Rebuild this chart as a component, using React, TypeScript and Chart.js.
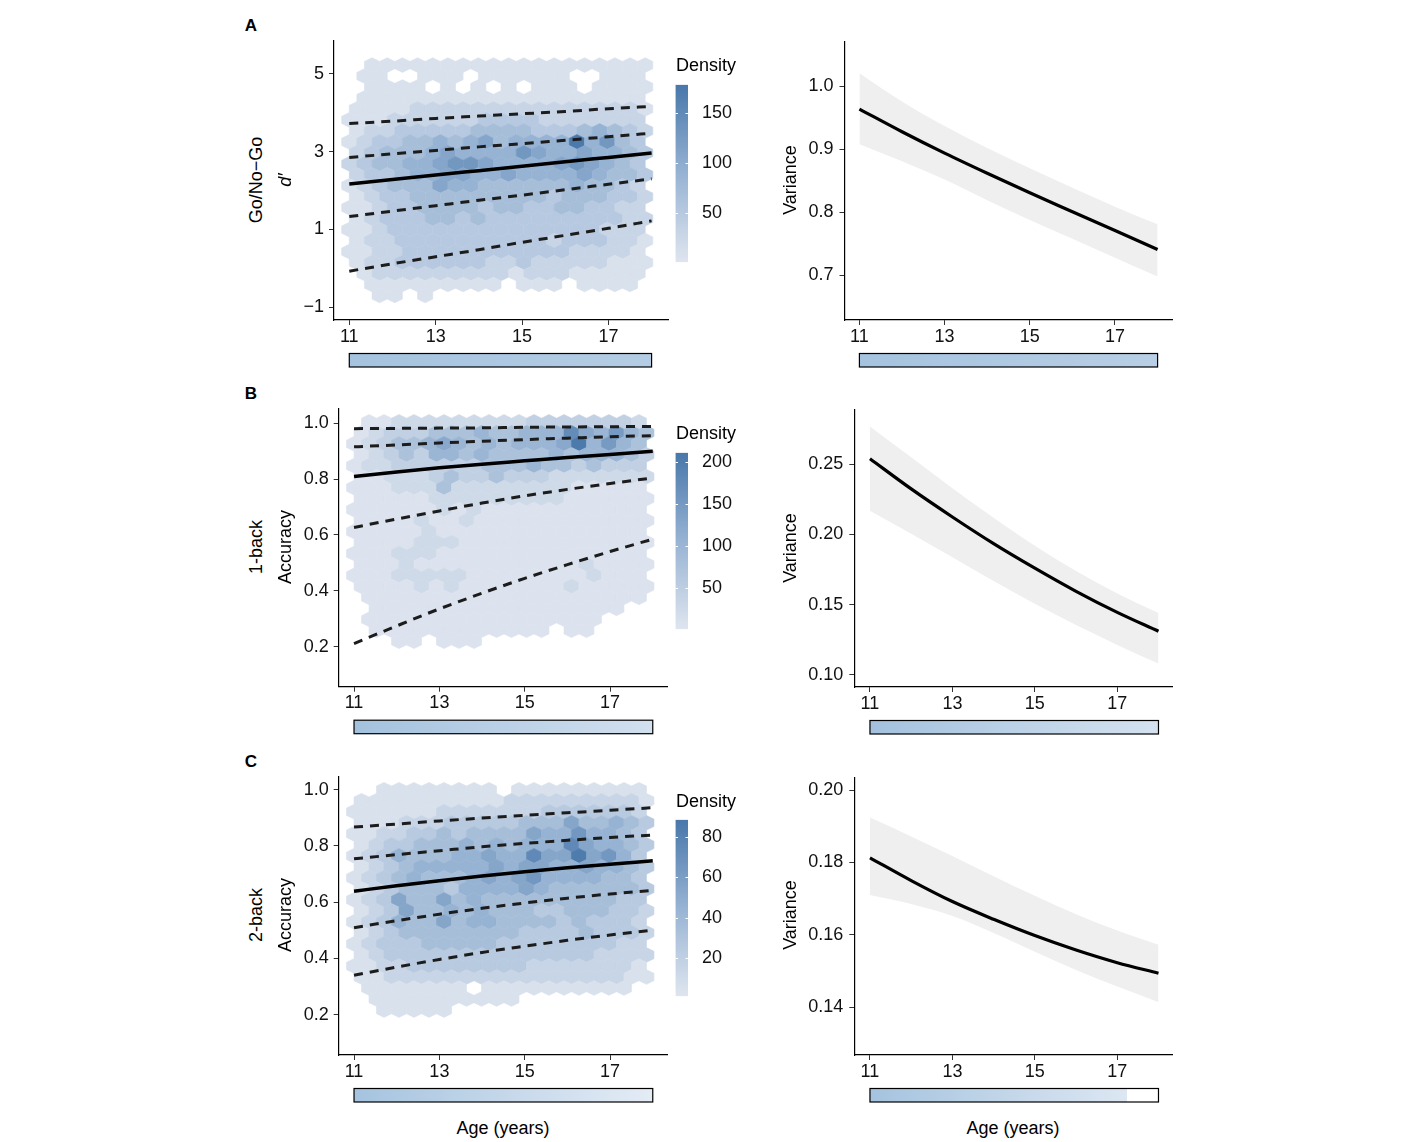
import React, { useEffect, useRef } from "react";
import { Chart, registerables } from "chart.js";

Chart.register(...registerables);

const FONT = "'Liberation Sans', Arial, Helvetica, sans-serif";
Chart.defaults.font.family = FONT;

// ---------------- data ----------------
const AGES = [11, 12, 13, 14, 15, 16, 17, 18];
const AGE_TICKS = [11, 13, 15, 17];

// Panel A (Go/No-Go d') quantile curves
const GNG_Q_TOP = [3.72, 3.78, 3.85, 3.91, 3.97, 4.03, 4.1, 4.16];
const GNG_Q_UP = [2.85, 2.94, 3.03, 3.12, 3.2, 3.29, 3.38, 3.47];
const GNG_MED = [2.17, 2.28, 2.4, 2.51, 2.62, 2.74, 2.85, 2.96];
const GNG_Q_LO = [1.33, 1.47, 1.61, 1.75, 1.88, 2.02, 2.16, 2.3];
const GNG_Q_BOT = [-0.07, 0.12, 0.3, 0.48, 0.67, 0.85, 1.03, 1.22];

// Panel B (1-back accuracy) quantile curves
const OB_Q_TOP = [0.98, 0.981, 0.982, 0.983, 0.985, 0.986, 0.987, 0.988];
const OB_Q_UP = [0.915, 0.922, 0.929, 0.935, 0.941, 0.946, 0.951, 0.955];
const OB_MED = [0.809, 0.825, 0.84, 0.853, 0.865, 0.877, 0.888, 0.899];
const OB_Q_LO = [0.627, 0.657, 0.686, 0.714, 0.74, 0.763, 0.784, 0.804];
const OB_Q_BOT = [0.212, 0.275, 0.336, 0.392, 0.445, 0.494, 0.541, 0.585];

// Panel C (2-back accuracy) quantile curves
const TB_Q_TOP = [0.867, 0.878, 0.889, 0.899, 0.909, 0.918, 0.927, 0.936];
const TB_Q_UP = [0.754, 0.769, 0.783, 0.797, 0.809, 0.82, 0.83, 0.839];
const TB_MED = [0.639, 0.658, 0.676, 0.693, 0.708, 0.722, 0.735, 0.747];
const TB_Q_LO = [0.509, 0.534, 0.557, 0.578, 0.597, 0.614, 0.629, 0.642];
const TB_Q_BOT = [0.34, 0.369, 0.396, 0.421, 0.443, 0.464, 0.483, 0.5];

// Variance curves with confidence ribbons
const VAR_A = [0.964, 0.928, 0.894, 0.862, 0.831, 0.801, 0.771, 0.741];
const VAR_A_UP = [1.021, 0.976, 0.937, 0.902, 0.87, 0.839, 0.809, 0.781];
const VAR_A_LO = [0.908, 0.881, 0.852, 0.819, 0.788, 0.758, 0.728, 0.698];
const VAR_B = [0.254, 0.2325, 0.2125, 0.1935, 0.176, 0.1595, 0.1445, 0.131];
const VAR_B_UP = [0.277, 0.255, 0.233, 0.212, 0.192, 0.174, 0.158, 0.144];
const VAR_B_LO = [0.217, 0.2005, 0.1838, 0.1668, 0.1506, 0.1355, 0.1213, 0.108];
const VAR_C = [0.1813, 0.175, 0.1692, 0.1643, 0.1598, 0.1558, 0.1523, 0.1494];
const VAR_C_UP = [0.1924, 0.1872, 0.1818, 0.1762, 0.1708, 0.1657, 0.1612, 0.1573];
const VAR_C_LO = [0.171, 0.1685, 0.1652, 0.1605, 0.1553, 0.1503, 0.1457, 0.1414];

// Y tick values
const Y_TICKS_GNG = [-1, 1, 3, 5];
const Y_TICKS_ACC = [0.2, 0.4, 0.6, 0.8, 1.0];
const Y_TICKS_VAR_A = [0.7, 0.8, 0.9, 1.0];
const Y_TICKS_VAR_B = [0.1, 0.15, 0.2, 0.25];
const Y_TICKS_VAR_C = [0.14, 0.16, 0.18, 0.2];

// Hexbin density grids: one string per hex row (top row first), one digit per column
// (0 = empty bin, 1..9 = density level, see *_LEVELS for the density each level stands for)
const HEX_X0 = 11.0;
const HEX_DX = 0.3514;

const HEX_A_Y0 = -0.694;
const HEX_A_DY = 0.2816;
const HEX_A_LEVELS = [0, 8, 30, 50, 70, 90, 110, 130, 150, 175];
const HEX_A_ROWS = [
  "01111111111111111111",
  "01100111011111100111",
  "01111010101011101111",
  "01111111111111111111",
  "11112222222222222221",
  "11122222233332222222",
  "12233333444433345432",
  "12334454564555595743",
  "23444565555765565543",
  "23445567765555676543",
  "23345566556555565443",
  "12344465544444454432",
  "12334444444443444332",
  "11233444434433443322",
  "12333443433333333322",
  "11233333333333333222",
  "12233333333332333221",
  "11223333333333322221",
  "12233333322322222111",
  "01222222222122211111",
  "01111111110111011110",
  "00110100000000000000",
];

const HEX_B_Y0 = 0.2203;
const HEX_B_DY = 0.0392;
const HEX_B_LEVELS = [0, 6, 25, 45, 75, 100, 125, 150, 175, 205];
const HEX_B_ROWS = [
  "01122222222233333332",
  "12333444544555865754",
  "12344565454555695754",
  "12343554544445455543",
  "12233333344454434333",
  "11222343343332222222",
  "11122242222222211111",
  "11111222222222111111",
  "11111121211111111111",
  "11112112111111111111",
  "11111211111111111111",
  "11112221111111111111",
  "11122211111111111111",
  "11121111111111121111",
  "11122222111111112111",
  "11112121111111211111",
  "01111111111111111111",
  "01111111111111111100",
  "01111111111111111000",
  "01111111111110110000",
  "00011011100000000000",
];

const HEX_C_Y0 = 0.216;
const HEX_C_DY = 0.0392;
const HEX_C_LEVELS = [0, 5, 15, 25, 35, 45, 55, 65, 75, 85];
const HEX_C_ROWS = [
  "00111111110111111111",
  "11111111112222222221",
  "11111122222223333332",
  "11122233333444644543",
  "11223343444465575543",
  "12334445454555865543",
  "12354445565586696753",
  "12345555565665565543",
  "12345444565675555443",
  "12344435555654444443",
  "12364464544444444433",
  "12364454544433444332",
  "12354464554444343332",
  "12344444444333343332",
  "12333444443333333322",
  "12333333333333332222",
  "11223333333322222221",
  "11222222222222222211",
  "01111111011111111110",
  "01111111111000000000",
  "00111110000000000000",
];

// Density colour-bar ranges and ticks
const DENS_A_RANGE = [1, 178.6];
const DENS_A_TICKS = [50, 100, 150];
const DENS_B_RANGE = [1, 211];
const DENS_B_TICKS = [50, 100, 150, 200];
const DENS_C_RANGE = [1.3, 88.4];
const DENS_C_TICKS = [20, 40, 60, 80];

// Age colour strips under each panel (age, colour)
const STRIP_A_LEFT = [[11, "#a5c3df"], [18, "#b4cde4"]];
const STRIP_B_LEFT = [[11, "#a3c1de"], [18, "#d2e0ef"]];
const STRIP_C_LEFT = [[11, "#a5c3df"], [18, "#e4ecf5"]];
const STRIP_A_RIGHT = [[11, "#a5c3df"], [18, "#b8cfe5"]];
const STRIP_B_RIGHT = [[11, "#a3c1de"], [18, "#d4e2f0"]];
const STRIP_C_RIGHT = [[11, "#a5c3df"], [17.24, "#dce7f2"], [17.24, "#ffffff"], [18, "#ffffff"]];

// ---------------- helpers ----------------
const GRAD_STOPS: [number, number[]][] = [
  [0, [223, 229, 239]],
  [0.5, [151, 179, 211]],
  [1, [72, 119, 170]],
];

function densityColor(d: number, lo: number, hi: number) {
  let t = (d - lo) / (hi - lo);
  t = Math.max(0, Math.min(1, t));
  for (let i = 0; i < GRAD_STOPS.length - 1; i++) {
    const [t0, c0] = GRAD_STOPS[i];
    const [t1, c1] = GRAD_STOPS[i + 1];
    if (t <= t1) {
      const f = (t - t0) / (t1 - t0);
      const c = c0.map((v, j) => Math.round(v + (c1[j] - v) * f));
      return `rgb(${c[0]},${c[1]},${c[2]})`;
    }
  }
  const c = GRAD_STOPS[GRAD_STOPS.length - 1][1];
  return `rgb(${c[0]},${c[1]},${c[2]})`;
}

function hexPlugin(spec: any) {
  return {
    id: "hexbins",
    beforeDatasetsDraw(chart: any) {
      const { ctx, chartArea, scales } = chart;
      const xs = scales.x;
      const ys = scales.y;
      ctx.save();
      ctx.beginPath();
      ctx.rect(chartArea.left, chartArea.top, chartArea.width, chartArea.height);
      ctx.clip();
      const n = spec.rows.length;
      const hx = spec.dx / 2;
      const hy = (spec.dy * 2) / 3;
      spec.rows.forEach((row: string, r: number) => {
        const i = n - 1 - r;
        const cy = spec.y0 + i * spec.dy;
        const off = i % 2 === 0 ? 0 : spec.dx / 2;
        for (let k = 0; k < row.length; k++) {
          const lv = parseInt(row[k], 10);
          if (!lv) continue;
          const cx = spec.x0 + off + k * spec.dx;
          const col = densityColor(spec.levels[lv], spec.lo, spec.hi);
          const pts = [
            [cx, cy + hy],
            [cx + hx, cy + hy / 2],
            [cx + hx, cy - hy / 2],
            [cx, cy - hy],
            [cx - hx, cy - hy / 2],
            [cx - hx, cy + hy / 2],
          ];
          ctx.beginPath();
          pts.forEach(([px, py], j) => {
            const X = xs.getPixelForValue(px);
            const Y = ys.getPixelForValue(py);
            if (j) ctx.lineTo(X, Y);
            else ctx.moveTo(X, Y);
          });
          ctx.closePath();
          ctx.fillStyle = col;
          ctx.fill();
          ctx.strokeStyle = col;
          ctx.lineWidth = 0.6;
          ctx.stroke();
        }
      });
      ctx.restore();
    },
  };
}

function stripPlugin(stops: any[]) {
  return {
    id: "agestrip",
    afterDraw(chart: any) {
      const { ctx, chartArea, scales } = chart;
      const xs = scales.x;
      const a0 = stops[0][0];
      const a1 = stops[stops.length - 1][0];
      const x0 = xs.getPixelForValue(a0);
      const x1 = xs.getPixelForValue(a1);
      const top = chartArea.bottom + 33.5;
      const h = 13.5;
      const g = ctx.createLinearGradient(x0, 0, x1, 0);
      stops.forEach(([a, c]: any) => g.addColorStop((a - a0) / (a1 - a0), c));
      ctx.save();
      ctx.fillStyle = g;
      ctx.fillRect(x0, top, x1 - x0, h);
      ctx.strokeStyle = "#000";
      ctx.lineWidth = 1.2;
      ctx.strokeRect(x0, top, x1 - x0, h);
      ctx.restore();
    },
  };
}

const pts = (vals: number[]) => AGES.map((a, i) => ({ x: a, y: vals[i] }));

const qLine = (vals: number[], dashed: boolean) => ({
  data: pts(vals),
  borderColor: dashed ? "#1c1c1c" : "#000",
  borderWidth: dashed ? 3 : 3.5,
  borderDash: dashed ? [9, 7] : [],
  pointRadius: 0,
  cubicInterpolationMode: "monotone",
  fill: false,
});

// centre line first so that it is painted last (on top of the ribbon fill)
const ribbon = (mid: number[], up: number[], lo: number[]) => [
  {
    data: pts(mid),
    borderColor: "#000",
    borderWidth: 3.2,
    fill: false,
    pointRadius: 0,
    cubicInterpolationMode: "monotone",
  },
  {
    data: pts(up),
    borderWidth: 0,
    borderColor: "rgba(0,0,0,0)",
    backgroundColor: "#efefef",
    fill: "+1",
    pointRadius: 0,
    cubicInterpolationMode: "monotone",
  },
  {
    data: pts(lo),
    borderWidth: 0,
    borderColor: "rgba(0,0,0,0)",
    fill: false,
    pointRadius: 0,
    cubicInterpolationMode: "monotone",
  },
];

function fmtTick(v: number, dec: number) {
  const s = Math.abs(v).toFixed(dec);
  return v < 0 ? "\u2212" + s : s;
}

type Plot = { l: number; t: number; r: number; b: number };

function MainPanel(props: {
  plot: Plot;
  xRange: number[];
  yRange: number[];
  yTicks: number[];
  yDec: number;
  datasets: any[];
  hex?: any;
  strip: any[];
  labelPad: number;
}) {
  const ref = useRef<HTMLCanvasElement>(null);
  const { plot } = props;
  const cl = Math.floor(plot.l) - 64;
  const ct = Math.floor(plot.t) - 14;
  const cr = Math.ceil(plot.r) + 8;
  const cb = Math.ceil(plot.b) + 56;
  const W = cr - cl;
  const H = cb - ct;
  useEffect(() => {
    const yw = plot.l - cl;
    const pt = plot.t - ct;
    const pr = cr - plot.r;
    const xh = cb - plot.b;
    const plugins: any[] = [stripPlugin(props.strip)];
    if (props.hex) plugins.push(hexPlugin(props.hex));
    const chart = new Chart(ref.current as HTMLCanvasElement, {
      type: "line",
      data: { datasets: props.datasets as any },
      plugins,
      options: {
        responsive: false,
        animation: false,
        events: [],
        layout: { padding: { top: pt, right: pr, left: 0, bottom: 0 } },
        plugins: { legend: { display: false }, tooltip: { enabled: false } },
        scales: {
          x: {
            type: "linear",
            min: props.xRange[0],
            max: props.xRange[1],
            afterFit: (s: any) => {
              s.height = xh;
            },
            afterBuildTicks: (s: any) => {
              s.ticks = AGE_TICKS.map((v) => ({ value: v }));
            },
            ticks: {
              font: { size: 18, family: FONT },
              color: "#111",
              padding: 1,
              maxRotation: 0,
              callback: (v: any) => String(v),
            },
            grid: { drawOnChartArea: false, drawTicks: true, tickLength: 5, color: "#333", lineWidth: 1 },
            border: { display: true, color: "#000", width: 1.2 },
          },
          y: {
            type: "linear",
            min: props.yRange[0],
            max: props.yRange[1],
            afterFit: (s: any) => {
              s.width = yw;
            },
            afterBuildTicks: (s: any) => {
              s.ticks = props.yTicks.map((v) => ({ value: v }));
            },
            ticks: {
              font: { size: 18, family: FONT },
              color: "#111",
              padding: props.labelPad,
              callback: (v: any) => fmtTick(Number(v), props.yDec),
            },
            grid: { drawOnChartArea: false, drawTicks: true, tickLength: 5, color: "#333", lineWidth: 1 },
            border: { display: true, color: "#000", width: 1.2 },
          },
        },
      } as any,
    });
    return () => chart.destroy();
  }, []);
  return (
    <canvas
      ref={ref}
      width={W}
      height={H}
      style={{ position: "absolute", left: cl, top: ct, width: W, height: H }}
    />
  );
}

function ColorBar(props: { top: number; bottom: number; range: number[]; ticks: number[] }) {
  const ref = useRef<HTMLCanvasElement>(null);
  const barL = 675.5;
  const barW = 12.5;
  const cl = 675;
  const ct = Math.floor(props.top) - 12;
  const cb = Math.ceil(props.bottom) + 12;
  const W = 70;
  const H = cb - ct;
  useEffect(() => {
    const padL = barL - cl;
    const pt = props.top - ct;
    const pb = cb - props.bottom;
    const yw = W - padL - barW;
    const tickPlugin = {
      id: "cbticks",
      afterDatasetsDraw(chart: any) {
        const { ctx, chartArea, scales } = chart;
        ctx.save();
        ctx.strokeStyle = "#ffffff";
        ctx.lineWidth = 1;
        scales.y.ticks.forEach((t: any) => {
          const y = Math.round(scales.y.getPixelForValue(t.value)) + 0.5;
          ctx.beginPath();
          ctx.moveTo(chartArea.left, y);
          ctx.lineTo(chartArea.left + 2.5, y);
          ctx.moveTo(chartArea.right - 2.5, y);
          ctx.lineTo(chartArea.right, y);
          ctx.stroke();
        });
        ctx.restore();
      },
    };
    const chart = new Chart(ref.current as HTMLCanvasElement, {
      type: "bar",
      data: {
        labels: [""],
        datasets: [
          {
            data: [[props.range[0], props.range[1]]],
            borderWidth: 0,
            barPercentage: 1,
            categoryPercentage: 1,
            backgroundColor: (c: any) => {
              const ch = c.chart;
              const area = ch.chartArea;
              if (!area) return "#dfe5ef";
              const g = ch.ctx.createLinearGradient(0, area.bottom, 0, area.top);
              GRAD_STOPS.forEach(([t, col]) => g.addColorStop(t, `rgb(${col[0]},${col[1]},${col[2]})`));
              return g;
            },
          } as any,
        ],
      },
      plugins: [tickPlugin],
      options: {
        responsive: false,
        animation: false,
        events: [],
        layout: { padding: { top: pt, bottom: pb, left: padL, right: 0 } },
        plugins: { legend: { display: false }, tooltip: { enabled: false } },
        scales: {
          x: { display: false },
          y: {
            position: "right",
            min: props.range[0],
            max: props.range[1],
            afterFit: (s: any) => {
              s.width = yw;
            },
            afterBuildTicks: (s: any) => {
              s.ticks = props.ticks.map((v) => ({ value: v }));
            },
            ticks: { font: { size: 18, family: FONT }, color: "#111", padding: 6 },
            grid: { display: false },
            border: { display: false },
          },
        },
      } as any,
    });
    return () => chart.destroy();
  }, []);
  return (
    <canvas
      ref={ref}
      width={W}
      height={H}
      style={{ position: "absolute", left: cl, top: ct, width: W, height: H }}
    />
  );
}

function Txt(props: {
  x: number;
  y: number;
  children: any;
  size?: number;
  rotate?: boolean;
  bold?: boolean;
  italic?: boolean;
  align?: "center" | "left";
}) {
  const { x, y, size = 18, rotate, bold, italic, align = "center" } = props;
  const tr =
    align === "left" ? "translate(0,-50%)" : `translate(-50%,-50%)${rotate ? " rotate(-90deg)" : ""}`;
  return (
    <div
      style={{
        position: "absolute",
        left: x,
        top: y,
        transform: tr,
        fontSize: size,
        fontWeight: bold ? 700 : 400,
        fontStyle: italic ? "italic" : "normal",
        whiteSpace: "nowrap",
        lineHeight: 1,
        fontFamily: FONT,
        color: "#000",
      }}
    >
      {props.children}
    </div>
  );
}

export default function App() {
  const LA: Plot = { l: 334, t: 39.3, r: 668, b: 320 };
  const LB: Plot = { l: 338.7, t: 407.3, r: 667.7, b: 686.7 };
  const LC: Plot = { l: 338.7, t: 775.7, r: 667.7, b: 1055 };
  const RA: Plot = { l: 844.5, t: 39.3, r: 1172.5, b: 320 };
  const RB: Plot = { l: 854.3, t: 407.3, r: 1172.5, b: 687 };
  const RC: Plot = { l: 854.3, t: 775, r: 1172.5, b: 1055 };

  return (
    <div
      style={{
        position: "absolute",
        left: 0,
        top: 0,
        width: 1418,
        height: 1142,
        background: "#fff",
        overflow: "hidden",
        fontFamily: FONT,
      }}
    >
      <MainPanel
        plot={LA}
        xRange={[10.646, 18.38]}
        yRange={[-1.324, 5.843]}
        yTicks={Y_TICKS_GNG}
        yDec={0}
        labelPad={5}
        strip={STRIP_A_LEFT}
        hex={{ rows: HEX_A_ROWS, x0: HEX_X0, dx: HEX_DX, y0: HEX_A_Y0, dy: HEX_A_DY, levels: HEX_A_LEVELS, lo: DENS_A_RANGE[0], hi: DENS_A_RANGE[1] }}
        datasets={[
          qLine(GNG_Q_TOP, true),
          qLine(GNG_Q_UP, true),
          qLine(GNG_MED, false),
          qLine(GNG_Q_LO, true),
          qLine(GNG_Q_BOT, true),
        ]}
      />
      <MainPanel
        plot={LB}
        xRange={[10.641, 18.35]}
        yRange={[0.0578, 1.051]}
        yTicks={Y_TICKS_ACC}
        yDec={1}
        labelPad={5}
        strip={STRIP_B_LEFT}
        hex={{ rows: HEX_B_ROWS, x0: HEX_X0, dx: HEX_DX, y0: HEX_B_Y0, dy: HEX_B_DY, levels: HEX_B_LEVELS, lo: DENS_B_RANGE[0], hi: DENS_B_RANGE[1] }}
        datasets={[
          qLine(OB_Q_TOP, true),
          qLine(OB_Q_UP, true),
          qLine(OB_MED, false),
          qLine(OB_Q_LO, true),
          qLine(OB_Q_BOT, true),
        ]}
      />
      <MainPanel
        plot={LC}
        xRange={[10.641, 18.35]}
        yRange={[0.056, 1.046]}
        yTicks={Y_TICKS_ACC}
        yDec={1}
        labelPad={5}
        strip={STRIP_C_LEFT}
        hex={{ rows: HEX_C_ROWS, x0: HEX_X0, dx: HEX_DX, y0: HEX_C_Y0, dy: HEX_C_DY, levels: HEX_C_LEVELS, lo: DENS_C_RANGE[0], hi: DENS_C_RANGE[1] }}
        datasets={[
          qLine(TB_Q_TOP, true),
          qLine(TB_Q_UP, true),
          qLine(TB_MED, false),
          qLine(TB_Q_LO, true),
          qLine(TB_Q_BOT, true),
        ]}
      />
      <MainPanel
        plot={RA}
        xRange={[10.65, 18.35]}
        yRange={[0.629, 1.0708]}
        yTicks={Y_TICKS_VAR_A}
        yDec={1}
        labelPad={6}
        strip={STRIP_A_RIGHT}
        datasets={ribbon(VAR_A, VAR_A_UP, VAR_A_LO)}
      />
      <MainPanel
        plot={RB}
        xRange={[10.62, 18.34]}
        yRange={[0.0913, 0.2889]}
        yTicks={Y_TICKS_VAR_B}
        yDec={2}
        labelPad={6}
        strip={STRIP_B_RIGHT}
        datasets={ribbon(VAR_B, VAR_B_UP, VAR_B_LO)}
      />
      <MainPanel
        plot={RC}
        xRange={[10.62, 18.34]}
        yRange={[0.1268, 0.2034]}
        yTicks={Y_TICKS_VAR_C}
        yDec={2}
        labelPad={6}
        strip={STRIP_C_RIGHT}
        datasets={ribbon(VAR_C, VAR_C_UP, VAR_C_LO)}
      />

      <ColorBar top={80} bottom={266.7} range={DENS_A_RANGE} ticks={DENS_A_TICKS} />
      <ColorBar top={448.3} bottom={633.3} range={DENS_B_RANGE} ticks={DENS_B_TICKS} />
      <ColorBar top={815} bottom={1001} range={DENS_C_RANGE} ticks={DENS_C_TICKS} />

      <Txt x={676} y={65} align="left">Density</Txt>
      <Txt x={676} y={433} align="left">Density</Txt>
      <Txt x={676} y={801} align="left">Density</Txt>

      <Txt x={251} y={25} size={17} bold>A</Txt>
      <Txt x={251} y={393} size={17} bold>B</Txt>
      <Txt x={251} y={761} size={17} bold>C</Txt>

      <Txt x={256} y={180} rotate>Go/No{"\u2212"}Go</Txt>
      <Txt x={285} y={180} rotate italic>{"d\u2032"}</Txt>
      <Txt x={256} y={547} rotate>1-back</Txt>
      <Txt x={285} y={547} rotate>Accuracy</Txt>
      <Txt x={256} y={915} rotate>2-back</Txt>
      <Txt x={285} y={915} rotate>Accuracy</Txt>

      <Txt x={789.5} y={180} rotate>Variance</Txt>
      <Txt x={789.5} y={548} rotate>Variance</Txt>
      <Txt x={789.5} y={915} rotate>Variance</Txt>

      <Txt x={503} y={1128}>Age (years)</Txt>
      <Txt x={1013} y={1128}>Age (years)</Txt>
    </div>
  );
}
